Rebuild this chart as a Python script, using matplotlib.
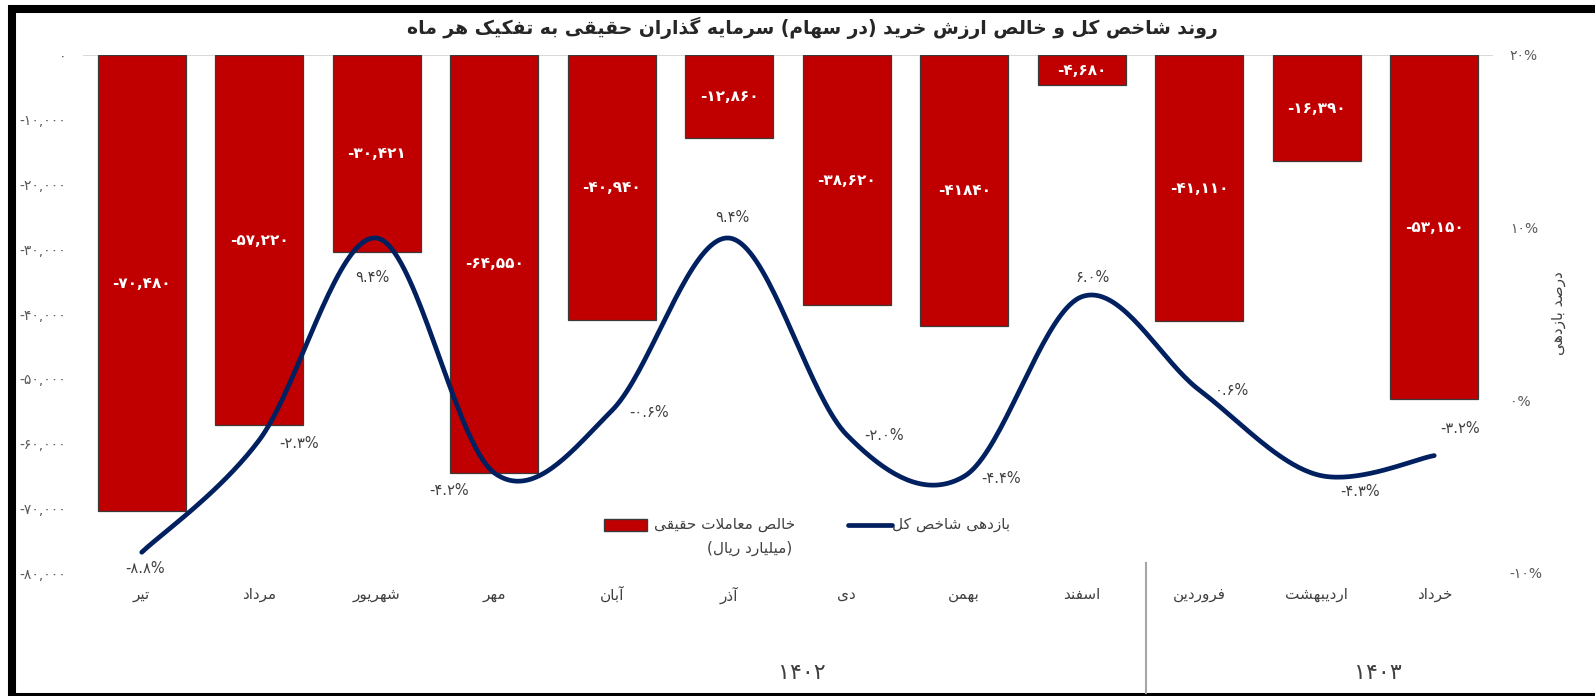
import numpy as np
import matplotlib
matplotlib.use('Agg')
import matplotlib.pyplot as plt
from matplotlib.patches import Rectangle
from matplotlib.lines import Line2D

# --- data ---
months = ['تیر', 'مرداد', 'شهریور', 'مهر', 'آبان', 'آذر', 'دی', 'بهمن', 'اسفند',
          'فروردین', 'اردیبهشت', 'خرداد']
net_flow = [-70480, -57220, -30421, -64550, -40940, -12860, -38620, -41840, -4680,
            -41110, -16390, -53150]
net_flow_text = ['-70,480', '-57,220', '-30,421', '-64,550', '-40,940', '-12,860',
                 '-38,620', '-41840', '-4,680', '-41,110', '-16,390', '-53,150']
index_return = [-8.8, -2.3, 9.4, -4.2, -0.6, 9.4, -2.0, -4.4, 6.0, 0.6, -4.3, -3.2]
years = ['1402', '1403']
left_ticks = [0, -10000, -20000, -30000, -40000, -50000, -60000, -70000, -80000]
right_ticks = [20, 10, 0, -10]

title = 'روند شاخص کل و خالص ارزش خرید (در سهام) سرمایه گذاران حقیقی به تفکیک هر ماه'
bar_name = 'خالص معاملات حقیقی'
bar_unit = '(میلیارد ریال)'
line_name = 'بازدهی شاخص کل'
right_label = 'درصد بازدهی'

# --- persian shaping (matplotlib has no bidi / joining) ---
FORMS = {
    'ا': ('\uFE8D', '\uFE8E', None, None),
    'آ': ('\uFE81', '\uFE82', None, None),
    'ب': ('\uFE8F', '\uFE90', '\uFE91', '\uFE92'),
    'ت': ('\uFE95', '\uFE96', '\uFE97', '\uFE98'),
    'ح': ('\uFEA1', '\uFEA2', '\uFEA3', '\uFEA4'),
    'خ': ('\uFEA5', '\uFEA6', '\uFEA7', '\uFEA8'),
    'د': ('\uFEA9', '\uFEAA', None, None),
    'ذ': ('\uFEAB', '\uFEAC', None, None),
    'ر': ('\uFEAD', '\uFEAE', None, None),
    'ز': ('\uFEAF', '\uFEB0', None, None),
    'س': ('\uFEB1', '\uFEB2', '\uFEB3', '\uFEB4'),
    'ش': ('\uFEB5', '\uFEB6', '\uFEB7', '\uFEB8'),
    'ص': ('\uFEB9', '\uFEBA', '\uFEBB', '\uFEBC'),
    'ع': ('\uFEC9', '\uFECA', '\uFECB', '\uFECC'),
    'ف': ('\uFED1', '\uFED2', '\uFED3', '\uFED4'),
    'ق': ('\uFED5', '\uFED6', '\uFED7', '\uFED8'),
    'ل': ('\uFEDD', '\uFEDE', '\uFEDF', '\uFEE0'),
    'م': ('\uFEE1', '\uFEE2', '\uFEE3', '\uFEE4'),
    'ن': ('\uFEE5', '\uFEE6', '\uFEE7', '\uFEE8'),
    'ه': ('\uFEE9', '\uFEEA', '\uFEEB', '\uFEEC'),
    'و': ('\uFEED', '\uFEEE', None, None),
    'ک': ('\uFB8E', '\uFB8F', '\uFB90', '\uFB91'),
    'گ': ('\uFB92', '\uFB93', '\uFB94', '\uFB95'),
    'ی': ('\uFBFC', '\uFBFD', '\uFBFE', '\uFBFF'),
}
RIGHT_ONLY = set('اآدذرزو')
LAM_ALEF = {'ا': ('\uFEFB', '\uFEFC'), 'آ': ('\uFEF5', '\uFEF6')}


def dual(c):
    return c in FORMS and c not in RIGHT_ONLY


def fa(text):
    text = text.replace('ي', 'ی').replace('ك', 'ک')
    out = []
    i = 0
    n = len(text)
    while i < n:
        c = text[i]
        if c not in FORMS:
            out.append(c)
            i += 1
            continue
        link_prev = i > 0 and dual(text[i - 1])
        if c == 'ل' and i + 1 < n and text[i + 1] in LAM_ALEF:
            iso, fin = LAM_ALEF[text[i + 1]]
            out.append(fin if link_prev else iso)
            i += 2
            continue
        link_next = dual(c) and i + 1 < n and text[i + 1] in FORMS
        iso, fin, ini, med = FORMS[c]
        if link_prev and link_next:
            out.append(med)
        elif link_prev:
            out.append(fin)
        elif link_next:
            out.append(ini)
        else:
            out.append(iso)
        i += 1
    s = ''.join(out)[::-1]
    return s.translate(str.maketrans('()', ')('))


def fa_num(s):
    return s.translate(str.maketrans('0123456789', '۰۱۲۳۴۵۶۷۸۹'))


def smooth(xs, ys, steps=40):
    # bezier smoothing like excel's "smoothed line"
    p = np.column_stack([xs, ys]).astype(float)
    p = np.vstack([p[0], p, p[-1]])
    t = np.linspace(0, 1, steps)[:, None]
    pts = []
    for i in range(1, len(p) - 2):
        p0, p3 = p[i], p[i + 1]
        c1 = p0 + (p[i + 1] - p[i - 1]) / 6
        c2 = p3 - (p[i + 2] - p[i]) / 6
        seg = (1 - t) ** 3 * p0 + 3 * (1 - t) ** 2 * t * c1 + 3 * (1 - t) * t ** 2 * c2 + t ** 3 * p3
        pts.append(seg)
    pts = np.vstack(pts)
    return pts[:, 0], pts[:, 1]


plt.rcParams['font.family'] = ['DejaVu Sans']

W, H = 1595, 696
fig = plt.figure(figsize=(W / 100, H / 100), dpi=100)
fig.patch.set_facecolor('white')


def fx(x):
    return x / W


def fy(y):
    return 1 - y / H


ax = fig.add_axes([fx(83), fy(573), (1493 - 83) / W, (573 - 55) / H])
x = np.arange(len(months))

# --- bars ---
ax.bar(x, net_flow, width=0.75, color='#C00000', edgecolor='#3a3a3a', linewidth=0.9, zorder=2)
ax.axhline(0, color='#d9d9d9', lw=1.5, zorder=1)
for i, (v, s) in enumerate(zip(net_flow, net_flow_text)):
    ax.text(i, v / 2, fa_num(s), ha='center', va='center', color='white',
            fontsize=11, fontweight='bold', zorder=3)

ax.set_xlim(-0.5, len(months) - 0.5)
ax.set_ylim(-80000, 0)
ax.set_yticks(left_ticks)
ax.set_yticklabels([fa_num(f'{v:,}') for v in left_ticks])
ax.set_xticks(x)
ax.set_xticklabels([fa(m) for m in months])
ax.tick_params(axis='y', length=0, pad=12, labelsize=10, labelcolor='#595959')
ax.tick_params(axis='x', length=0, pad=10, labelsize=11, labelcolor='#404040')
for sp in ax.spines.values():
    sp.set_visible(False)

# --- line on secondary axis ---
ax2 = ax.twinx()
ax2.set_ylim(-10, 20)
ax2.set_yticks(right_ticks)
ax2.set_yticklabels([fa_num(f'{v}%') for v in right_ticks])
ax2.tick_params(axis='y', length=0, pad=12, labelsize=10, labelcolor='#595959')
for sp in ax2.spines.values():
    sp.set_visible(False)

sx, sy = smooth(x, index_return)
ax2.plot(sx, sy, color='#002060', lw=3.4, solid_capstyle='round', zorder=4)

label_offsets = [(3, -16), (40, -3), (-4, -39), (-45, -18), (37, -2), (3, 21),
                 (37, -1), (37, -2), (11, 19), (33, -1), (43, -17), (26, 27)]
for i, (v, off) in enumerate(zip(index_return, label_offsets)):
    ax2.annotate(fa_num(f'{v:.1f}%'), (i, v), xytext=off, textcoords='offset pixels',
                 ha='center', va='center', fontsize=10.5, color='#404040', zorder=5)

# --- title and side labels ---
fig.text(fx(812), fy(28), fa(title), ha='center', va='center', fontsize=13.5,
         fontweight='bold', color='#262626')
fig.text(fx(1559), fy(313), fa(right_label), rotation=90, ha='center', va='center',
         fontsize=11, color='#404040')

# --- year groups ---
fig.text(fx(802), fy(673), fa_num(years[0]), ha='center', va='center', fontsize=16, color='#404040')
fig.text(fx(1378), fy(673), fa_num(years[1]), ha='center', va='center', fontsize=16, color='#404040')
fig.add_artist(Line2D([fx(1146), fx(1146)], [fy(563), fy(693)], color='#a6a6a6', lw=1.5))

# --- legend ---
fig.add_artist(Rectangle((fx(604), fy(531)), 43 / W, 12 / H, facecolor='#C00000',
                         edgecolor='#3a3a3a', lw=1))
fig.text(fx(795), fy(525), fa(bar_name), ha='right', va='center', fontsize=11, color='#404040')
fig.text(fx(792), fy(548), fa(bar_unit), ha='right', va='center', fontsize=11, color='#404040')
fig.add_artist(Line2D([fx(848), fx(892)], [fy(525), fy(525)], color='#002060', lw=3.4,
                      solid_capstyle='round'))
fig.text(fx(1010), fy(525), fa(line_name), ha='right', va='center', fontsize=11, color='#404040')

# --- outer frame ---
fig.add_artist(Rectangle((fx(12), fy(697)), (1599 - 12) / W, (697 - 8.5) / H, fill=False,
                         edgecolor='black', lw=5.8, clip_on=False))

fig.savefig('out.png', dpi=100, facecolor='white')
